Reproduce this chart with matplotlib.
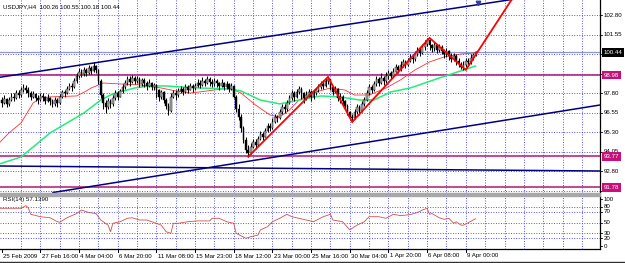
import matplotlib
matplotlib.use('Agg')
import matplotlib.pyplot as plt
import numpy as np
from matplotlib.patches import Rectangle
from matplotlib.lines import Line2D
from matplotlib.transforms import blended_transform_factory

# ---------------- data ----------------
title_text = "USDJPY,H4  100.26 100.55 100.18 100.44"
rsi_title = "RSI(14) 57.1390"

first_open = 97.35
closes = [
    97.20, 97.45, 97.10, 97.35, 97.60, 97.50, 97.80, 97.70, 98.00, 98.15,
    98.05, 97.80, 97.60, 97.75, 97.50, 97.40, 97.65, 97.55, 97.30, 97.50,
    97.30, 97.10, 97.35, 97.20, 97.60, 97.90, 97.80, 98.10, 98.30, 98.20,
    98.60, 98.90, 99.20, 99.05, 99.30, 99.10, 99.40, 99.25, 99.55, 99.30,
    98.60, 97.70, 97.20, 96.90, 97.30, 97.10, 97.50, 97.80, 97.60, 97.95,
    98.20, 98.45, 98.70, 98.55, 98.80, 98.60, 98.75, 98.40, 98.65, 98.50,
    98.30, 98.50, 98.20, 98.35, 98.00, 97.60, 97.90, 97.40, 97.00, 96.70,
    97.60, 97.80, 97.70, 97.95, 98.10, 97.90, 98.20, 98.05, 98.30, 98.15,
    98.30, 98.50, 98.35, 98.60, 98.45, 98.70, 98.55, 98.40, 98.60, 98.45,
    98.30, 98.50, 98.20, 98.40, 98.10, 98.25, 97.60, 96.80, 96.30, 95.60,
    94.80, 94.20, 94.00, 94.40, 94.70, 94.50, 94.90, 95.20, 95.00, 95.40,
    95.70, 95.60, 96.00, 96.30, 96.20, 96.60, 96.90, 96.80, 97.20, 97.50,
    97.80, 97.60, 97.90, 98.10, 97.80, 97.50, 97.70, 97.90, 97.60, 97.80,
    98.00, 98.20, 98.40, 98.30, 98.60, 98.70, 98.20, 97.90, 98.10, 97.50,
    97.60, 97.30, 97.00, 96.60, 96.30, 96.20, 96.60, 96.90, 96.70, 97.10,
    97.40, 97.80, 98.20, 98.00, 98.40, 98.70, 98.50, 98.80, 98.60, 98.90,
    99.10, 98.90, 99.20, 99.50, 99.30, 99.60, 99.80, 99.60, 99.90, 100.10,
    100.00, 100.30, 100.60, 100.40, 100.80, 101.00, 101.20, 100.90, 100.70, 100.90,
    100.60, 100.80, 100.50, 100.30, 100.50, 100.20, 100.00, 100.20, 99.90, 99.70,
    99.50, 99.60, 99.90, 99.80, 100.10, 100.26, 100.44,
]
highs = [
    97.55, 97.70, 97.50, 97.60, 97.80, 97.85, 98.00, 98.00, 98.20, 98.40,
    98.35, 98.20, 97.95, 97.95, 97.85, 97.70, 97.85, 97.80, 97.65, 97.75,
    97.60, 97.45, 97.55, 97.50, 97.75, 98.05, 98.05, 98.25, 98.50, 98.45,
    98.80, 99.10, 99.40, 99.35, 99.50, 99.45, 99.60, 99.55, 99.80, 99.65,
    99.35, 98.70, 97.85, 97.40, 97.50, 97.45, 97.70, 98.00, 97.95, 98.10,
    98.40, 98.65, 98.95, 98.90, 99.00, 98.90, 98.95, 98.85, 98.80, 98.80,
    98.60, 98.70, 98.55, 98.50, 98.40, 98.10, 98.05, 97.95, 97.50, 97.20,
    97.80, 98.05, 98.00, 98.15, 98.30, 98.20, 98.40, 98.35, 98.50, 98.40,
    98.50, 98.70, 98.65, 98.85, 98.75, 98.95, 98.85, 98.70, 98.80, 98.70,
    98.55, 98.70, 98.55, 98.60, 98.45, 98.50, 98.35, 97.70, 97.10, 96.50,
    95.70, 95.00, 94.50, 94.60, 94.90, 94.85, 95.10, 95.40, 95.35, 95.60,
    95.90, 95.90, 96.20, 96.50, 96.45, 96.80, 97.10, 97.10, 97.40, 97.70,
    98.00, 97.95, 98.10, 98.30, 98.20, 97.90, 97.95, 98.10, 98.00, 98.00,
    98.15, 98.40, 98.60, 98.65, 98.80, 98.86, 98.75, 98.30, 98.25, 98.15,
    97.85, 97.70, 97.40, 97.10, 96.70, 96.50, 96.80, 97.10, 97.05, 97.30,
    97.60, 98.00, 98.40, 98.35, 98.60, 98.95, 98.85, 99.10, 98.95, 99.20,
    99.30, 99.25, 99.40, 99.70, 99.65, 99.85, 100.00, 99.95, 100.10, 100.30,
    100.25, 100.50, 100.80, 100.75, 101.00, 101.20, 101.36, 101.30, 101.00, 101.10,
    100.95, 101.00, 100.90, 100.65, 100.70, 100.60, 100.40, 100.40, 100.30, 100.10,
    99.80, 99.90, 100.10, 100.05, 100.30, 100.40, 100.55,
]
lows = [
    96.90, 97.10, 96.95, 97.00, 97.30, 97.30, 97.45, 97.50, 97.60, 97.90,
    97.85, 97.60, 97.40, 97.50, 97.30, 97.15, 97.30, 97.30, 97.10, 97.25,
    97.05, 96.90, 97.00, 96.95, 97.15, 97.50, 97.55, 97.75, 98.00, 97.95,
    98.15, 98.50, 98.80, 98.85, 98.95, 98.90, 99.05, 99.05, 99.20, 99.10,
    98.40, 97.50, 96.80, 96.55, 96.80, 96.85, 97.00, 97.40, 97.35, 97.55,
    97.85, 98.10, 98.35, 98.30, 98.45, 98.40, 98.45, 98.20, 98.30, 98.20,
    98.05, 98.20, 98.00, 98.00, 97.50, 97.30, 97.45, 97.20, 96.80, 96.40,
    96.60, 97.50, 97.40, 97.60, 97.80, 97.70, 97.85, 97.85, 98.00, 97.90,
    98.05, 98.20, 98.15, 98.30, 98.25, 98.40, 98.30, 98.20, 98.30, 98.20,
    98.05, 98.20, 98.00, 98.10, 97.90, 98.00, 97.50, 96.60, 96.10, 95.30,
    94.60, 94.00, 93.73, 93.90, 94.30, 94.25, 94.45, 94.80, 94.80, 95.00,
    95.30, 95.40, 95.55, 95.90, 96.00, 96.15, 96.50, 96.55, 96.70, 97.10,
    97.40, 97.30, 97.50, 97.75, 97.45, 97.20, 97.35, 97.60, 97.30, 97.45,
    97.70, 97.90, 98.10, 98.10, 98.20, 98.40, 98.05, 97.70, 97.80, 97.30,
    97.20, 97.00, 96.80, 96.40, 96.10, 95.97, 96.15, 96.50, 96.45, 96.60,
    97.00, 97.30, 97.70, 97.80, 97.95, 98.30, 98.30, 98.40, 98.35, 98.50,
    98.70, 98.70, 98.85, 99.15, 99.10, 99.25, 99.50, 99.40, 99.55, 99.80,
    99.75, 99.90, 100.20, 100.20, 100.35, 100.60, 100.85, 100.60, 100.45, 100.50,
    100.40, 100.45, 100.30, 100.05, 100.15, 99.95, 99.80, 99.90, 99.65, 99.50,
    99.35, 99.31, 99.50, 99.60, 99.70, 99.95, 100.18,
]

ma_fast_bars = [-1, 3, 8, 13, 16, 20, 31, 35, 37, 42, 49, 57, 66, 72, 78, 82, 88, 94, 99,
                105, 111, 115, 119, 123, 130, 136, 142, 146, 152, 159, 165, 171, 177, 183, 190, 196]
ma_fast_vals = [94.63, 95.27, 95.91, 97.19, 97.51, 97.58, 97.64, 97.96, 98.15, 98.47, 98.41,
                98.35, 98.15, 97.96, 97.83, 97.90, 98.02, 98.15, 97.83, 97.06, 96.42, 96.29,
                96.74, 97.38, 97.90, 98.15, 98.02, 97.70, 97.70, 98.15, 98.67, 99.31, 99.82,
                100.14, 100.33, 100.40]
ma_slow_bars = [-1, 8, 13, 20, 27, 34, 41, 45, 49, 55, 61, 68, 74, 82, 94, 99, 107, 115, 123,
                132, 140, 148, 154, 161, 169, 181, 196]
ma_slow_vals = [93.28, 93.73, 94.37, 95.27, 95.91, 96.55, 97.38, 97.70, 97.90, 98.15, 98.28,
                98.28, 98.22, 98.15, 98.09, 97.96, 97.38, 97.13, 97.38, 97.64, 97.58, 97.38,
                97.38, 97.90, 98.15, 98.79, 99.56]

rsi_bars = [-1, 8, 10, 11, 12, 16, 20, 23, 24, 27, 31, 33, 36, 39, 41, 44, 45, 46, 49, 52,
            54, 57, 60, 64, 66, 68, 70, 71, 73, 77, 81, 86, 87, 90, 93, 96, 97, 101, 103,
            106, 107, 110, 112, 115, 118, 120, 126, 129, 133, 136, 137, 141, 144, 147, 150,
            152, 156, 159, 162, 165, 169, 172, 174, 176, 177, 178, 181, 183, 185, 187, 188,
            190, 191, 193, 196]
rsi_vals = [77, 77, 82, 78, 65.6, 61, 59, 51.5, 50.4, 59, 67, 73.7, 69, 67, 54.7, 45, 32.5,
            48.5, 51.5, 58, 59, 54.7, 54.7, 48.5, 45, 32.5, 29.5, 48.5, 48.5, 51.5, 53, 53, 58,
            58, 51.5, 48.5, 29.5, 20, 23, 26, 36, 42, 51.5, 58, 65.6, 61, 54.7, 51.5, 61, 65.6,
            54.7, 51.5, 36, 45, 51.5, 61, 61, 58, 65.6, 63, 65, 69, 73.7, 77, 65.6, 67, 59, 56,
            58, 48.5, 51.5, 45, 45, 49.6, 57.14]

zigzag_bars = [102, 135, 145, 177, 192, 213]
zigzag_vals = [93.75, 98.86, 95.97, 101.36, 99.31, 104.3]

upper_line_bars = [-0.7, 247.5]
upper_line_vals = [98.84, 104.68]
lower_line_bars = [21.2, 247.5]
lower_line_vals = [91.45, 97.06]
flat_line_bars = [-0.7, 247.5]
flat_line_vals = [93.15, 92.83]
alert_bar, alert_val = 197, 103.6

bid_price = 100.44
level_prices = [98.98, 93.77, 91.78]
price_ticks = [102.80, 101.55, 100.30, 99.05, 97.80, 96.55, 95.30, 94.05, 92.80, 91.55]
price_tick_shown = [102.80, 101.55, 97.80, 96.55, 95.30, 94.05, 92.80]
rsi_levels = [20, 30, 50, 70, 80]
rsi_tick_labels = ["100", "80", "70", "50", "30", "20", "0"]
rsi_tick_vals = [94.5, 80, 70, 50, 30, 20, 5]
date_labels = ["25 Feb 2009", "27 Feb 16:00", "4 Mar 04:00", "6 Mar 20:00", "11 Mar 08:00",
               "15 Mar 23:00", "18 Mar 12:00", "23 Mar 00:00", "25 Mar 16:00", "30 Mar 04:00",
               "1 Apr 20:00", "6 Apr 08:00", "9 Apr 00:00"]
date_bars = [0, 16, 32, 48, 64, 80, 96, 112, 128, 144, 160, 176, 192]
grid_bars = [8 * k for k in range(1, 31)]

# ---------------- style ----------------
FONT = ['Liberation Sans', 'DejaVu Sans']
FS = 4.4
GRID_C = '#3a3aff'
GRID_LS = (0, (1.0, 1.8))
NAVY = '#000080'
MAG = '#b8146e'
W, H = 625, 263

fig = plt.figure(figsize=(W / 100, H / 100), dpi=100)
fig.patch.set_facecolor('white')

def fy(py):
    return 1 - py / H

ax = fig.add_axes([0, fy(193), 600 / W, 193 / H])
ar = fig.add_axes([0, fy(249), 600 / W, (249 - 196) / H])

xlim = (-0.7, 247.5)
for a in (ax, ar):
    a.set_xlim(*xlim)
    a.set_facecolor('white')
    for s in ('left', 'top'):
        a.spines[s].set_visible(False)
    a.spines['right'].set_color('black')
    a.spines['right'].set_linewidth(0.9)
    a.set_yticks([])
    a.set_xticks([])
    for gb in grid_bars:
        a.axvline(gb, color=GRID_C, lw=0.65, ls=GRID_LS, zorder=0.5)
ax.spines['bottom'].set_visible(False)
ar.spines['bottom'].set_color('black')
ar.spines['bottom'].set_linewidth(0.9)

ax.set_ylim(91.42, 103.79)
ar.set_ylim(-0.3, 100.3)

# horizontal grid
for p in price_ticks:
    ax.axhline(p, color=GRID_C, lw=0.65, ls=GRID_LS, zorder=0.5)
for r in rsi_levels:
    ar.axhline(r, color=GRID_C, lw=0.65, ls=GRID_LS, zorder=0.5)

# candles
closes = np.array(closes)
highs = np.array(highs)
lows = np.array(lows)
opens = np.concatenate([[first_open], closes[:-1]])
bars = np.arange(len(closes))
ax.vlines(bars, lows, highs, color='black', lw=0.75, zorder=3)
bull = closes >= opens
bottoms = np.minimum(opens, closes)
heights = np.maximum(np.abs(closes - opens), 0.02)
ax.bar(bars, heights, bottom=bottoms, width=0.7,
       color=np.where(bull, '#b0b0b0', 'black'), edgecolor='black', linewidth=0.3, zorder=3.5)

# moving averages
ax.plot(ma_fast_bars, ma_fast_vals, color='#ff3030', lw=0.6, zorder=2.5)
ax.plot(ma_slow_bars, ma_slow_vals, color='#22ee77', lw=1.1, zorder=2.5)

# horizontal levels
ax.axhline(bid_price, color='#8f96d2', lw=0.9, zorder=2)
for lp in level_prices:
    ax.axhline(lp, color=MAG, lw=1.1, zorder=2)

# trend lines
ax.plot(upper_line_bars, upper_line_vals, color=NAVY, lw=1.1, zorder=4)
ax.plot(lower_line_bars, lower_line_vals, color=NAVY, lw=1.1, zorder=4)
ax.plot(flat_line_bars, flat_line_vals, color=NAVY, lw=1.1, zorder=4)
ax.plot([alert_bar], [alert_val], marker='v', color='#3040a0', ms=3.2, zorder=5)

# zigzag
ax.plot(zigzag_bars, zigzag_vals, color='#ff0000', lw=1.3, zorder=5, solid_joinstyle='miter')

# RSI
ar.plot(rsi_bars, rsi_vals, color='#d0504a', lw=0.6, zorder=3)

# header texts
fig.text(3 / W, fy(7), title_text, fontsize=FS, family=FONT, va='center', ha='left')
fig.text(3 / W, fy(200), rsi_title, fontsize=FS, family=FONT, va='center', ha='left')

# right price labels
tr_main = blended_transform_factory(fig.transFigure, ax.transData)
for p in price_ticks:
    fig.add_artist(Line2D([600 / W, 602 / W], [p, p], transform=tr_main, color='black', lw=0.6))
for p in price_tick_shown:
    fig.text(604 / W, p, f"{p:.2f}", transform=tr_main, fontsize=FS, family=FONT,
             va='center', ha='left')
fig.text(603.5 / W, bid_price, f"{bid_price:.2f}", transform=tr_main, fontsize=FS, family=FONT,
         va='center', ha='left', color='white', zorder=10,
         bbox=dict(boxstyle='square,pad=0.3', fc='black', ec='none'))
for lp in level_prices:
    fig.text(603.5 / W, lp, f"{lp:.2f}", transform=tr_main, fontsize=FS, family=FONT,
             va='center', ha='left', color='white', zorder=10,
             bbox=dict(boxstyle='square,pad=0.3', fc='#c8107a', ec='none'))

# right RSI labels
tr_rsi = blended_transform_factory(fig.transFigure, ar.transData)
for lab, v in zip(rsi_tick_labels, rsi_tick_vals):
    fig.text(604 / W, v, lab, transform=tr_rsi, fontsize=FS, family=FONT, va='center', ha='left')
    fig.add_artist(Line2D([600 / W, 602 / W], [v, v], transform=tr_rsi, color='black', lw=0.6))

# date labels
tr_date = blended_transform_factory(ar.transData, fig.transFigure)
for lab, b in zip(date_labels, date_bars):
    fig.text(b + 0.5, fy(256), lab, transform=tr_date, fontsize=FS, family=FONT,
             va='center', ha='left')
    fig.add_artist(Line2D([b, b], [fy(249), fy(252)], transform=tr_date, color='black', lw=0.7))

# separator and window border
fig.add_artist(Rectangle((0, fy(195.5)), 600 / W, 2.3 / H, transform=fig.transFigure,
                         color='#a8a8a8', zorder=5))
fig.add_artist(Line2D([0, 1], [fy(262), fy(262)], transform=fig.transFigure, color='#303030', lw=1.0))

fig.savefig('out.png', dpi=100, facecolor='white')
